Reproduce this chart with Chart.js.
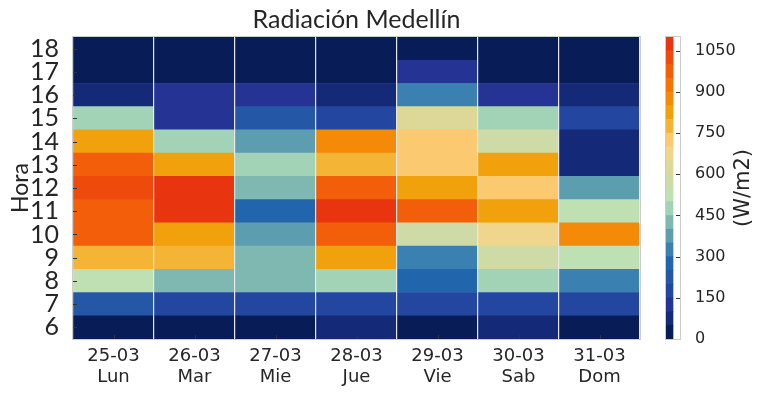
<!DOCTYPE html>
<html>
<head>
<meta charset="utf-8">
<script src="https://cdn.jsdelivr.net/npm/chart.js@4.4.1/dist/chart.umd.min.js"></script>
<style>
  html, body { margin: 0; padding: 0; background: #ffffff; }
  #wrap { position: relative; width: 767px; height: 395px; }
  #main { position: absolute; left: 0; top: 0; }
  #cbar { position: absolute; left: 640px; top: 0; }
</style>
</head>
<body>
<div id="wrap">
  <canvas id="main" width="767" height="395"></canvas>
  <canvas id="cbar" width="127" height="395"></canvas>
</div>
<script>
// ---- Data (W/m2), hours 6..18 ----
const days = ['25-03', '26-03', '27-03', '28-03', '29-03', '30-03', '31-03'];
const weekdays = ['Lun', 'Mar', 'Mie', 'Jue', 'Vie', 'Sab', 'Dom'];
const hours = [6, 7, 8, 9, 10, 11, 12, 13, 14, 15, 16, 17, 18];

const lun = [10, 220, 520, 780, 980, 990, 1020, 960, 820, 470, 60, 15, 5];
const mar = [12, 170, 420, 770, 830, 1080, 1055, 820, 470, 120, 130, 10, 5];
const mie = [15, 175, 430, 420, 370, 280, 430, 480, 380, 230, 120, 12, 5];
const jue = [70, 180, 480, 830, 970, 1080, 960, 780, 870, 180, 80, 15, 5];
const vie = [20, 170, 270, 320, 560, 960, 820, 720, 730, 630, 330, 120, 10];
const sab = [60, 175, 470, 570, 680, 810, 720, 830, 560, 470, 120, 15, 5];
const dom = [15, 170, 330, 520, 860, 510, 370, 80, 75, 160, 70, 10, 5];

const series = [lun, mar, mie, jue, vie, sab, dom];

// colour scale: 22 levels of 50 W/m2 from 0 to 1100
const levelStep = 50;
const levelMax = 1100;
const levelColors = [
  '#081d58', '#142a78', '#253494', '#2346a0', '#2458a6', '#2166ac',
  '#3a80b0', '#5d9db0', '#7fb8b0', '#a2d3b7', '#bfe0b2', '#cfdba6',
  '#ddd897', '#f0d58c', '#fbc96f', '#f4b536', '#f1a10b', '#f48a07',
  '#f57408', '#f25e0a', '#ee4a0c', '#e8350f'
];
const cbTicks = [0, 150, 300, 450, 600, 750, 900, 1050];

function colorFor(v) {
  const i = Math.max(0, Math.min(levelColors.length - 1, Math.floor(v / levelStep)));
  return levelColors[i];
}

const textColor = '#262626';

// inward ticks + frame
const frameTicks = {
  id: 'frameTicks',
  afterDraw(chart, args, opts) {
    const ctx = chart.ctx;
    const a = chart.chartArea;
    ctx.save();
    ctx.strokeStyle = '#333333';
    ctx.lineWidth = 1;
    const len = 4;
    if (opts.xTicks) {
      const x = chart.scales.x;
      x.ticks.forEach((t, i) => {
        const px = Math.round(x.getPixelForTick(i)) + 0.5;
        ctx.beginPath();
        ctx.moveTo(px, a.bottom);
        ctx.lineTo(px, a.bottom - len);
        ctx.stroke();
      });
    }
    if (opts.yTicks) {
      const y = chart.scales.y;
      const side = opts.ySide || 'left';
      y.ticks.forEach((t, i) => {
        const py = Math.round(y.getPixelForValue(t.value)) + 0.5;
        ctx.beginPath();
        if (side === 'left') {
          ctx.moveTo(a.left, py);
          ctx.lineTo(a.left + len, py);
        } else {
          ctx.moveTo(a.right, py);
          ctx.lineTo(a.right - len, py);
        }
        ctx.stroke();
      });
    }
    ctx.strokeStyle = '#cccccc';
    ctx.strokeRect(Math.round(a.left) - 0.5, Math.round(a.top) - 0.5,
                   Math.round(a.right - a.left) + 1, Math.round(a.bottom - a.top) + 1);
    if (opts.rightTitle) {
      ctx.fillStyle = textColor;
      ctx.font = opts.rightTitle.font;
      ctx.textAlign = 'center';
      ctx.textBaseline = 'middle';
      ctx.translate(opts.rightTitle.x, (a.top + a.bottom) / 2);
      ctx.rotate(-Math.PI / 2);
      ctx.fillText(opts.rightTitle.text, 0, 0);
    }
    ctx.restore();
  }
};

// ---- main heatmap ----
const heatDatasets = hours.map((h, hi) => ({
  label: String(h),
  data: series.map(() => [h - 0.5, h + 0.5]),
  backgroundColor: series.map(s => colorFor(s[hi])),
  borderWidth: 0,
  grouped: false,
  barPercentage: 1,
  categoryPercentage: 1
}));

new Chart(document.getElementById('main'), {
  type: 'bar',
  data: {
    labels: days.map((d, i) => [d, weekdays[i]]),
    datasets: heatDatasets
  },
  options: {
    responsive: false,
    animation: false,
    events: [],
    layout: { padding: { left: 0, right: 127, top: 0, bottom: 0 } },
    plugins: {
      legend: { display: false },
      tooltip: { enabled: false },
      title: {
        display: true,
        text: 'Radiación Medellín',
        fullSize: false,
        color: textColor,
        font: { family: 'Lato', size: 25, weight: 'normal', lineHeight: 1.2 },
        padding: { top: 5, bottom: 2 }
      },
      frameTicks: { xTicks: true, yTicks: true, ySide: 'left' }
    },
    scales: {
      x: {
        type: 'category',
        offset: true,
        grid: { display: true, offset: true, color: '#e8e8e8', lineWidth: 1.2, drawTicks: false, z: 1 },
        border: { display: false },
        ticks: {
          color: textColor,
          padding: 7,
          maxRotation: 0,
          font: { family: 'DejaVu Sans', size: 18, lineHeight: 1.15 }
        },
        afterFit(scale) { scale.height = 56; }
      },
      y: {
        type: 'linear',
        min: 5.5,
        max: 18.5,
        grid: { display: false },
        border: { display: false },
        afterBuildTicks(scale) { scale.ticks = hours.map(v => ({ value: v })); },
        ticks: {
          color: textColor,
          padding: 6,
          autoSkip: false,
          font: { family: 'Lato', size: 25 },
          callback: v => String(v)
        },
        title: {
          display: true,
          text: 'Hora',
          color: textColor,
          font: { family: 'Lato', size: 23 },
          padding: { top: 7, bottom: 0 }
        },
        afterFit(scale) { scale.width = 73; }
      }
    }
  },
  plugins: [frameTicks]
});

// ---- colour bar ----
const cbDatasets = levelColors.map((c, i) => ({
  data: [[i * levelStep, (i + 1) * levelStep]],
  backgroundColor: c,
  borderWidth: 0,
  grouped: false,
  barPercentage: 1,
  categoryPercentage: 1
}));

new Chart(document.getElementById('cbar'), {
  type: 'bar',
  data: { labels: ['cb'], datasets: cbDatasets },
  options: {
    responsive: false,
    animation: false,
    events: [],
    layout: { padding: { left: 26, right: 0, top: 37, bottom: 56 } },
    plugins: {
      legend: { display: false },
      tooltip: { enabled: false },
      frameTicks: {
        xTicks: false, yTicks: true, ySide: 'right',
        rightTitle: { text: '(W/m2)', x: 104, font: '21px "DejaVu Sans"' }
      }
    },
    scales: {
      x: { display: false, offset: false },
      y: {
        position: 'right',
        min: 0,
        max: levelMax,
        grid: { display: false },
        border: { display: false },
        afterBuildTicks(scale) { scale.ticks = cbTicks.map(v => ({ value: v })); },
        ticks: {
          color: textColor,
          padding: 7,
          autoSkip: false,
          font: { family: 'DejaVu Sans', size: 16 },
          callback: v => String(v)
        },
        afterFit(scale) { scale.width = 87; }
      }
    }
  },
  plugins: [frameTicks]
});
</script>
</body>
</html>
